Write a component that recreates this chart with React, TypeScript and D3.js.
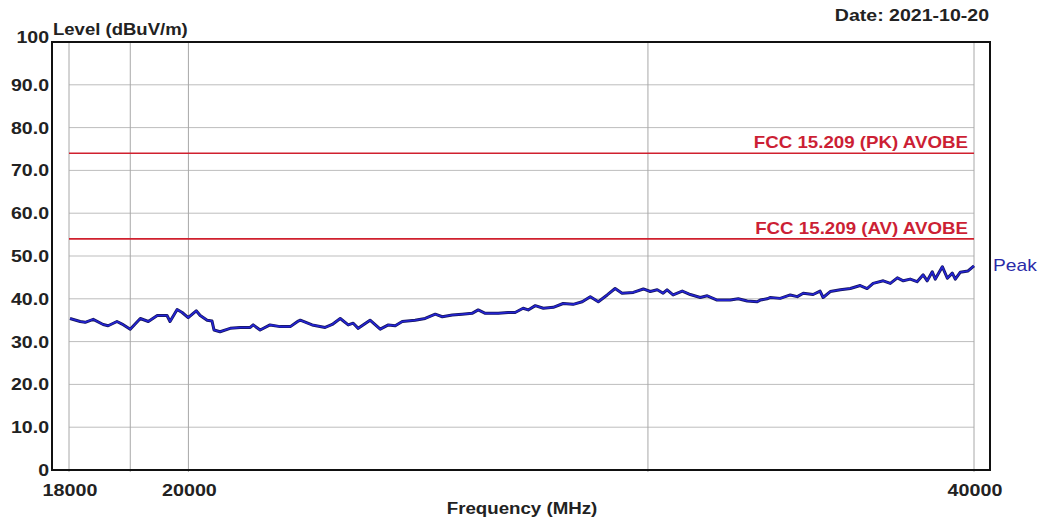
import React from "react";
import * as d3 from "d3";

const freqs: number[] = [
  18016, 18178, 18259, 18389, 18551, 18632, 18778, 18863, 18999, 19169, 19305, 19458, 19626, 19678, 19802, 19890,
  19996, 20138, 20209, 20333, 20421, 20457, 20566, 20751, 20936, 21121, 21176, 21307, 21493, 21687, 21881, 22036,
  22075, 22308, 22564, 22706, 22867, 23029, 23130, 23233, 23476, 23688, 23858, 24004, 24153, 24428, 24646, 24867,
  25022, 25243, 25464, 25688, 25827, 25989, 26289, 26520, 26682, 26871, 26992, 27161, 27355, 27597, 27837, 28083,
  28310, 28512, 28714, 28941, 29143, 29323, 29614, 29878, 30062, 30247, 30405, 30510, 30673, 30922, 31142, 31418,
  31611, 31887, 32259, 32489, 32748, 33036, 33123, 33324, 33412, 33713, 34014, 34226, 34406, 34707, 34920, 35014,
  35235, 35550, 35865, 36179, 36399, 36594, 36923, 37153, 37384, 37581, 37811, 38041, 38245, 38382, 38554, 38657,
  38898, 39070, 39242, 39345, 39516, 39792, 40000,
];
const levels: number[] = [
  35.4, 34.7, 34.5, 35.2, 34.0, 33.7, 34.7, 34.1, 32.9, 35.4, 34.7, 36.1, 36.1, 34.7, 37.5, 36.8,
  35.6, 37.2, 36.1, 35.0, 34.8, 32.7, 32.3, 33.1, 33.3, 33.3, 33.9, 32.7, 33.9, 33.5, 33.5, 34.8,
  35.0, 33.9, 33.3, 34.0, 35.4, 33.9, 34.3, 33.1, 35.0, 32.9, 33.9, 33.7, 34.7, 35.0, 35.4, 36.4,
  35.8, 36.2, 36.4, 36.6, 37.4, 36.6, 36.6, 36.8, 36.8, 37.8, 37.4, 38.4, 37.8, 38.0, 38.9, 38.7,
  39.3, 40.5, 39.3, 40.9, 42.4, 41.3, 41.5, 42.3, 41.7, 42.1, 41.3, 42.1, 40.9, 41.8, 41.0, 40.3,
  40.7, 39.7, 39.7, 40.0, 39.5, 39.3, 39.7, 40.0, 40.3, 40.1, 40.9, 40.5, 41.3, 41.0, 41.8, 40.3,
  41.7, 42.1, 42.4, 43.1, 42.4, 43.6, 44.2, 43.6, 44.9, 44.2, 44.6, 44.0, 45.6, 44.2, 46.3, 44.6,
  47.5, 44.8, 46.0, 44.6, 46.2, 46.5, 47.7,
];

const yTicks: number[] = [0, 10, 20, 30, 40, 50, 60, 70, 80, 90, 100];
const yTickLabels: string[] = ["0", "10.0", "20.0", "30.0", "40.0", "50.0", "60.0", "70.0", "80.0", "90.0", "100"];
const xGridFreqs: number[] = [18000, 19000, 20000, 30000, 40000];
const xTickFreqs: number[] = [18000, 20000, 40000];
const xTickLabels: string[] = ["18000", "20000", "40000"];
const limitNames: string[] = ["FCC 15.209 (PK) AVOBE", "FCC 15.209 (AV) AVOBE"];
const limitValues: number[] = [74, 54];

const FONT = "'Liberation Sans', Arial, sans-serif";

export default function App() {
  const W = 1045, H = 526;
  const x = d3.scaleLog().domain([18000, 40000]).range([69, 974]);
  const y = d3.scaleLinear().domain([0, 100]).range([470, 42]);
  const data = freqs.map((f, i) => [f, levels[i]] as [number, number]);
  const line = d3.line<[number, number]>().x(d => x(d[0])).y(d => y(d[1]));
  const path = line(data) || "";
  const last = data[data.length - 1];

  const T = (props: { x: number; y: number; sx: number; anchor: string; size: number; weight: string; fill: string; children: string }) => (
    <g transform={`translate(${props.x},${props.y}) scale(${props.sx},1)`}>
      <text x={0} y={0} textAnchor={props.anchor as any} fontSize={props.size} fontWeight={props.weight} fill={props.fill} fontFamily={FONT}>
        {props.children}
      </text>
    </g>
  );

  return (
    <svg width={W} height={H} style={{ position: "absolute", left: 0, top: 0, background: "#fff" }}>
      <rect x={0} y={0} width={W} height={H} fill="#fff" />
      {yTicks.filter(v => v > 0 && v < 100).map(v => (
        <line key={"h" + v} x1={x(18000)} x2={x(40000)} y1={y(v)} y2={y(v)} stroke="#bdbdbd" strokeWidth={1} />
      ))}
      {xGridFreqs.map(f => (
        <line key={"v" + f} x1={x(f)} x2={x(f)} y1={y(100)} y2={y(0) + 2} stroke="#a8a8a8" strokeWidth={1} />
      ))}
      {limitValues.map((v, i) => (
        <g key={"lim" + i}>
          <line x1={x(18000)} x2={x(40000)} y1={y(v)} y2={y(v)} stroke="#d0202e" strokeWidth={1.6} />
          <T x={968} y={y(v) - 5} sx={1.17} anchor="end" size={16} weight="bold" fill="#cc1f35">{limitNames[i]}</T>
        </g>
      ))}
      <path d={path} fill="none" stroke="#15155a" strokeWidth={3} strokeLinejoin="round" />
      <path d={path} fill="none" stroke="#2424d4" strokeWidth={1.6} strokeLinejoin="round" />
      <rect x={52} y={42} width={938} height={428} fill="none" stroke="#111" strokeWidth={2} />
      {yTicks.map((v, i) => (
        <T key={"yt" + v} x={49} y={y(v) + 6 - (v === 100 ? 5 : 0)} sx={1.15} anchor="end" size={17} weight="bold" fill="#222">{yTickLabels[i]}</T>
      ))}
      {xTickFreqs.map((f, i) => (
        <T key={"xt" + f} x={x(f) + 1} y={496} sx={1.16} anchor="middle" size={17} weight="bold" fill="#222">{xTickLabels[i]}</T>
      ))}
      <T x={53} y={35} sx={1.09} anchor="start" size={17} weight="bold" fill="#222">Level (dBuV/m)</T>
      <T x={989} y={21} sx={1.15} anchor="end" size={17} weight="bold" fill="#222">Date: 2021-10-20</T>
      <T x={522} y={514} sx={1.1} anchor="middle" size={17} weight="bold" fill="#222">Frequency (MHz)</T>
      <T x={993} y={y(last[1]) + 5} sx={1.2} anchor="start" size={16} weight="normal" fill="#2a2aa8">Peak</T>
    </svg>
  );
}
